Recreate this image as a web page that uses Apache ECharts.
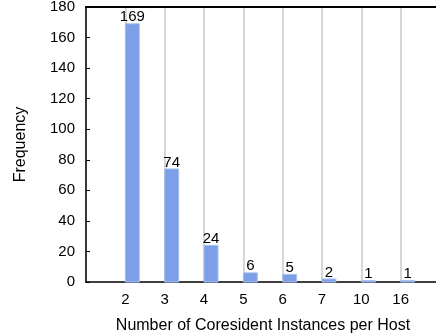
<!DOCTYPE html>
<html>
<head>
<meta charset="utf-8">
<script src="https://cdn.jsdelivr.net/npm/echarts@6/dist/echarts.min.js"></script>
<style>
  html, body { margin: 0; padding: 0; background: #fff; }
  #chart { width: 436px; height: 336px; }
</style>
</head>
<body>
<div id="chart"></div>
<script>
// Number of coresident instances per host and how often each occurs
const categories = ['2', '3', '4', '5', '6', '7', '10', '16'];
const frequency = [169, 74, 24, 6, 5, 2, 1, 1];
const yTicks = [0, 20, 40, 60, 80, 100, 120, 140, 160, 180];

const FONT = 'Liberation Sans, Arial, Helvetica, sans-serif';
const chart = echarts.init(document.getElementById('chart'), null, { renderer: 'canvas' });

// bars sit at slot positions 1..n on a numeric axis, leaving an empty slot on each side
const barData = frequency.map((v, i) => [i + 1, v]);
const slotMax = categories.length + 1;

chart.setOption({
  animation: false,
  backgroundColor: '#fff',
  grid: { left: 86, top: 7, bottom: 54, right: -4, containLabel: false, outerBoundsMode: 'none' },
  xAxis: [{
    type: 'value',
    min: 0, max: slotMax, interval: 1,
    name: 'Number of Coresident Instances per Host',
    nameLocation: 'middle', nameGap: 36,
    nameTextStyle: { color: '#000', fontSize: 16, fontFamily: FONT },
    axisLine: { show: true, lineStyle: { color: '#000', width: 1.5 } },
    axisTick: { show: false },
    axisLabel: {
      color: '#000', fontSize: 15, fontFamily: FONT, margin: 10,
      formatter: v => (v >= 1 && v <= categories.length) ? categories[v - 1] : ''
    },
    splitLine: { show: true, lineStyle: { color: '#c8c8c8', width: 1.5 } }
  }, {
    // top frame line
    type: 'value', position: 'top',
    min: 0, max: slotMax, interval: 1,
    axisLine: { show: true, lineStyle: { color: '#000', width: 2 } },
    axisTick: { show: false }, axisLabel: { show: false }, splitLine: { show: false }
  }],
  yAxis: {
    type: 'value',
    min: yTicks[0], max: yTicks[yTicks.length - 1], interval: yTicks[1] - yTicks[0],
    name: 'Frequency',
    nameLocation: 'middle', nameGap: 57,
    nameTextStyle: { color: '#000', fontSize: 16, fontFamily: FONT },
    axisLine: { show: true, lineStyle: { color: '#000', width: 1.5 } },
    axisTick: { show: true, inside: true, length: 4, lineStyle: { color: '#000', width: 1 } },
    axisLabel: { color: '#000', fontSize: 15, fontFamily: FONT, margin: 11 },
    splitLine: { show: false }
  },
  series: [{
    type: 'custom',
    data: barData,
    encode: { x: 0, y: 1 },
    renderItem: function (params, api) {
      const base = api.coord([api.value(0), 0]);
      const top = api.coord([api.value(0), api.value(1)]);
      const w = api.size([1, 0])[0] * 0.356;
      return {
        type: 'group',
        children: [{
          type: 'rect',
          shape: { x: base[0], y: top[1], width: w, height: base[1] - top[1] },
          style: { fill: '#7c9fe7', stroke: '#a9c0f0', lineWidth: 1 }
        }, {
          type: 'text',
          style: {
            x: base[0] + w / 2, y: top[1] + 1,
            text: String(api.value(1)),
            align: 'center', verticalAlign: 'bottom',
            fill: '#000', fontSize: 15, fontFamily: FONT
          }
        }]
      };
    }
  }]
});
</script>
</body>
</html>
